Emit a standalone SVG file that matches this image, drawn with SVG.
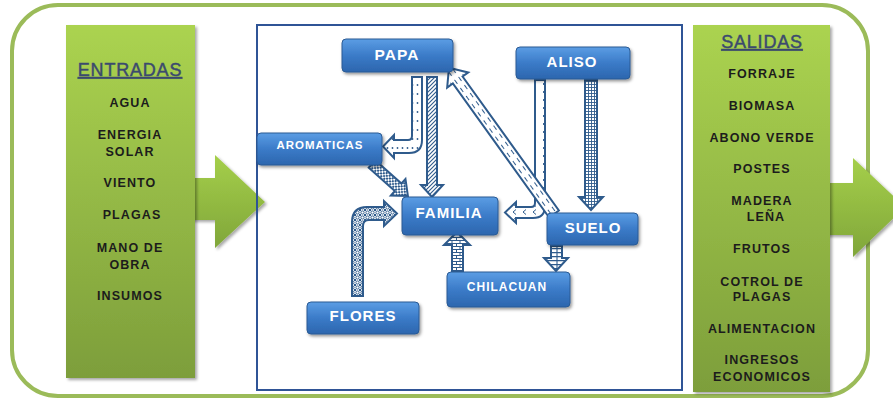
<svg xmlns="http://www.w3.org/2000/svg" width="893" height="400" viewBox="0 0 893 400">
<defs>
<style>
.panelTxt{font-family:"Liberation Sans",Arial,sans-serif;font-weight:bold;font-size:12.5px;letter-spacing:1.1px;fill:#1c1c1c;text-anchor:middle}
.title{font-family:"Liberation Sans",Arial,sans-serif;font-size:18px;letter-spacing:0.8px;fill:#3b4a6e;stroke:#3b4a6e;stroke-width:0.45px;text-anchor:middle;text-decoration:underline}
.node rect{fill:url(#gBlue);stroke:#2a5a94;stroke-width:1;filter:url(#shadow)}
.node text{font-family:"Liberation Sans",Arial,sans-serif;font-weight:bold;fill:#fff;text-anchor:middle;letter-spacing:1px}
.arr{stroke:#2f5b8c;stroke-width:2;stroke-linejoin:miter}
</style>
<linearGradient id="gBlue" x1="0" y1="0" x2="0" y2="1">
<stop offset="0" stop-color="#5b9de4"/>
<stop offset="0.5" stop-color="#3b7bc8"/>
<stop offset="1" stop-color="#2c66ae"/>
</linearGradient>
<linearGradient id="gGreen" x1="0" y1="0" x2="0" y2="1">
<stop offset="0" stop-color="#abd350"/>
<stop offset="1" stop-color="#7d9e3b"/>
</linearGradient>
<linearGradient id="gGreenArr" x1="0" y1="0" x2="0" y2="1">
<stop offset="0" stop-color="#a5cf4a"/>
<stop offset="1" stop-color="#80a63a"/>
</linearGradient>
<filter id="shadow" x="-10%" y="-10%" width="130%" height="140%">
<feDropShadow dx="1.5" dy="2" stdDeviation="1.5" flood-color="#000" flood-opacity="0.4"/>
</filter>
<filter id="pshadow" x="-10%" y="-5%" width="130%" height="115%">
<feDropShadow dx="2" dy="2" stdDeviation="1.5" flood-color="#000" flood-opacity="0.35"/>
</filter>
<pattern id="pDots" patternUnits="userSpaceOnUse" width="5" height="9">
<rect width="5" height="9" fill="#fff"/><circle cx="2.5" cy="4" r="0.9" fill="#2f5b8c"/>
</pattern>
<pattern id="pHatch" patternUnits="userSpaceOnUse" width="4" height="4">
<rect width="4" height="4" fill="#fff"/><path d="M-1,5 L5,-1 M-1,1 L1,-1 M3,5 L5,3" stroke="#2f5b8c" stroke-width="1.1"/>
</pattern>
<pattern id="pCheck" patternUnits="userSpaceOnUse" width="4" height="4">
<rect width="4" height="4" fill="#fff"/><rect width="2" height="2" fill="#2f5b8c"/><rect x="2" y="2" width="2" height="2" fill="#2f5b8c"/>
</pattern>
<pattern id="pDash" patternUnits="userSpaceOnUse" width="10" height="5">
<rect width="10" height="5" fill="#fff"/><line x1="2" y1="2.5" x2="7" y2="2.5" stroke="#2f5b8c" stroke-width="1"/>
</pattern>
<pattern id="pChev" patternUnits="userSpaceOnUse" width="10" height="8">
<rect width="10" height="8" fill="#fff"/><path d="M6,1.5 L3,4 L6,6.5" fill="none" stroke="#2f5b8c" stroke-width="1"/>
</pattern>
<pattern id="pLadder" patternUnits="userSpaceOnUse" width="3" height="3">
<rect width="3" height="3" fill="#fff"/><path d="M0.5,0 V3 M0,0.5 H3" stroke="#2f5b8c" stroke-width="0.9"/>
</pattern>
<pattern id="pBars" patternUnits="userSpaceOnUse" width="10" height="4">
<rect width="10" height="4" fill="#fff"/><path d="M0,0.6 H10 M7,0 V4" stroke="#2f5b8c" stroke-width="1.1"/>
</pattern>
<pattern id="pBrick" patternUnits="userSpaceOnUse" width="8" height="6">
<rect width="8" height="6" fill="#fff"/><path d="M0,0.5 H8 M0,3.5 H8 M4,0 V3 M0.5,3 V6" stroke="#2f5b8c" stroke-width="1"/>
</pattern>
<pattern id="pWeave" patternUnits="userSpaceOnUse" width="5" height="5">
<rect width="5" height="5" fill="#fff"/><circle cx="2.5" cy="2.5" r="1.6" fill="none" stroke="#2f5b8c" stroke-width="1"/><path d="M0,0 L1,1 M5,0 L4,1 M0,5 L1,4 M5,5 L4,4" stroke="#2f5b8c" stroke-width="1"/>
</pattern>
</defs>

<rect x="0" y="0" width="893" height="400" fill="#fff"/>

<g id="frame">
<rect x="12" y="5" width="856" height="391" rx="46" ry="46" fill="#fff" stroke="#9bbb59" stroke-width="4"/>
</g>

<g id="entradas">
<path d="M190,178 H215 V155 L265,202 L215,248 V220 H190 Z" fill="url(#gGreenArr)" filter="url(#pshadow)"/>
<rect x="66" y="25" width="129" height="353" fill="url(#gGreen)" filter="url(#pshadow)"/>
<text class="title" x="130" y="76">ENTRADAS</text>
<text class="panelTxt" x="130" y="106.5">AGUA</text>
<text class="panelTxt" x="130" y="138.5">ENERGIA</text>
<text class="panelTxt" x="130" y="155.5">SOLAR</text>
<text class="panelTxt" x="130" y="186.5">VIENTO</text>
<text class="panelTxt" x="132" y="218.5">PLAGAS</text>
<text class="panelTxt" x="130" y="251.5">MANO DE</text>
<text class="panelTxt" x="130" y="268.5">OBRA</text>
<text class="panelTxt" x="130" y="299.5">INSUMOS</text>
</g>

<g id="salidas">
<path d="M826,183 H853 V158 L905,207 L853,257 V235 H826 Z" fill="url(#gGreenArr)" filter="url(#pshadow)"/>
<rect x="693" y="25" width="137" height="367" fill="url(#gGreen)" filter="url(#pshadow)"/>
<text class="title" x="762" y="48">SALIDAS</text>
<text class="panelTxt" x="762" y="77.5">FORRAJE</text>
<text class="panelTxt" x="762" y="109.5">BIOMASA</text>
<text class="panelTxt" x="762" y="141.5">ABONO VERDE</text>
<text class="panelTxt" x="762" y="172.5">POSTES</text>
<text class="panelTxt" x="762" y="204.5">MADERA</text>
<text class="panelTxt" x="766" y="221">LEÑA</text>
<text class="panelTxt" x="762" y="252.5">FRUTOS</text>
<text class="panelTxt" x="762" y="285.5">COTROL DE</text>
<text class="panelTxt" x="762" y="300.5">PLAGAS</text>
<text class="panelTxt" x="762" y="332.5">ALIMENTACION</text>
<text class="panelTxt" x="762" y="363.5">INGRESOS</text>
<text class="panelTxt" x="762" y="380.5">ECONOMICOS</text>
</g>

<g id="system">
<rect x="257" y="25" width="425" height="365" fill="none" stroke="#2f5496" stroke-width="2"/>
</g>

<g id="connectors">
<path class="arr" fill="url(#pDots)" d="M412,77 H422 V140 Q422,153 409,153 H394 V158 L383,146.5 L394,135 V140 H408 Q412,140 412,136 Z"/>
<path class="arr" fill="url(#pHatch)" d="M427,77 H437 V185 H443 L432,197 L421,185 H427 Z"/>
<path class="arr" fill="url(#pCheck)" transform="translate(372,164) rotate(41.6)" d="M0,-5 H35 V-11 L48,0 L35,11 V5 H0 Z"/>
<path class="arr" fill="url(#pWeave)" d="M352,296 V222 Q352,207 367,207 H384 V201 L397,213.5 L384,226 V220 H369 Q363,220 363,226 V296 Z"/>
<path class="arr" fill="url(#pBrick)" d="M452,272 V245 H444 L457,232 L470,245 H463 V272 Z"/>
<path class="arr" fill="url(#pChev)" d="M535,80 H545 V206 Q545,218 533,218 H516 V223 L505,212.5 L516,202 V207 H531 Q535,207 535,203 Z"/>
<path class="arr" fill="url(#pLadder)" d="M585,80 H597 V197 H603 L591,210 L579,197 H585 Z"/>
<path class="arr" fill="url(#pBars)" d="M551,246 H562 V258 H568 L556,271 L544,258 H551 Z"/>
<path class="arr" fill="url(#pDash)" transform="translate(554,214) rotate(-125.7)" d="M0,-6 H165 V-13 L180,0 L165,13 V6 H0 Z"/>
</g>

<g id="papa" class="node"><rect x="342" y="39" width="111" height="33" rx="4"/><text x="397" y="60" font-size="15.5">PAPA</text></g>
<g id="aliso" class="node"><rect x="516" y="47" width="114" height="32" rx="4"/><text x="572" y="67" font-size="15">ALISO</text></g>
<g id="aromaticas" class="node"><rect x="257" y="133" width="125" height="32" rx="4"/><text x="320" y="149" font-size="11.5">AROMATICAS</text></g>
<g id="familia" class="node"><rect x="402" y="197" width="96" height="38" rx="4"/><text x="449" y="218" font-size="15">FAMILIA</text></g>
<g id="suelo" class="node"><rect x="547" y="213" width="91" height="32" rx="4"/><text x="593" y="233" font-size="15">SUELO</text></g>
<g id="chilacuan" class="node"><rect x="447" y="272" width="123" height="35" rx="4"/><text x="507" y="291" font-size="12">CHILACUAN</text></g>
<g id="flores" class="node"><rect x="307" y="302" width="112" height="32" rx="4"/><text x="363" y="321" font-size="15">FLORES</text></g>
</svg>
